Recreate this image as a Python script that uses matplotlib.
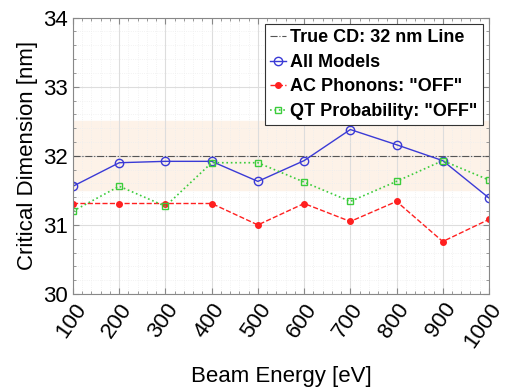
import matplotlib.pyplot as plt
import numpy as np
from matplotlib.ticker import MultipleLocator

plt.rcParams['font.family'] = ['Liberation Sans', 'DejaVu Sans']

# data
energy = [100, 200, 300, 400, 500, 600, 700, 800, 900, 1000]
all_models = [31.56, 31.90, 31.92, 31.92, 31.63, 31.93, 32.38, 32.16, 31.93, 31.39]
ac_off = [31.31, 31.31, 31.31, 31.31, 31.00, 31.31, 31.05, 31.34, 30.76, 31.08]
qt_off = [31.20, 31.56, 31.27, 31.90, 31.90, 31.62, 31.34, 31.63, 31.93, 31.65]
true_cd = 32
band = [31.5, 32.5]

fig = plt.figure(figsize=(5.12, 3.9), dpi=100)
ax = fig.add_axes([0.1426, 0.246, 0.8124, 0.709])

ax.axhspan(band[0], band[1], color='#fdf2e8', zorder=0)
ax.axhline(true_cd, color='#555555', ls='-.', lw=0.8, label='True CD: 32 nm Line')
ax.plot(energy, all_models, '-o', color='#3a3ad6', lw=1.0, ms=6, mfc='none',
        mew=1.0, label='All Models')
ax.plot(energy, ac_off, '--', marker='.', color='#ff2020', lw=1.0, ms=8,
        label='AC Phonons: "OFF"')
ax.plot(energy, qt_off, ':', marker='s', color='#3ccc3c', lw=1.2, ms=5, mfc='none',
        mew=1.0, label='QT Probability: "OFF"')

ax.set_xlim(100, 1000)
ax.set_ylim(30, 34)
ax.set_xticks(energy)
ax.set_yticks([30, 31, 32, 33, 34])
ax.xaxis.set_minor_locator(MultipleLocator(20))
ax.yaxis.set_minor_locator(MultipleLocator(0.2))
ax.grid(which='major', color='#dddddd', lw=0.8)
ax.grid(which='minor', color='#eeeeee', lw=0.6, ls=':')
ax.set_axisbelow(True)
ax.tick_params(which='both', direction='in', top=True, right=True, color='#888888')
ax.tick_params(which='major', labelsize=16, length=4)
ax.tick_params(which='minor', length=2)
for s in ax.spines.values():
    s.set_color('#888888')
plt.setp(ax.get_xticklabels(), rotation=55, ha='right', rotation_mode='anchor')

ax.set_xlabel('Beam Energy [eV]', fontsize=16, labelpad=10)
ax.set_ylabel('Critical Dimension [nm]', fontsize=16)

leg = ax.legend(loc='upper right', prop={'weight': 'bold', 'size': 13},
                handlelength=0.9, handletextpad=0.2, borderpad=0.3,
                labelspacing=0.42, fancybox=False, framealpha=1,
                borderaxespad=0.35)
leg.get_frame().set_edgecolor('#333333')
leg.get_frame().set_linewidth(0.8)

fig.savefig('out.png', dpi=100)
